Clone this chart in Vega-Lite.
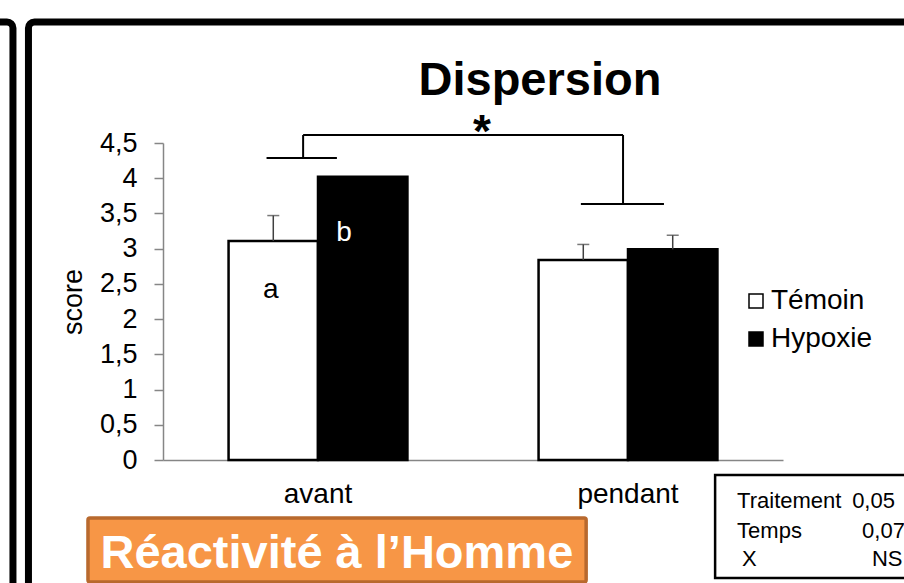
{
  "$schema": "https://vega.github.io/schema/vega-lite/v6.json",
  "width": 620,
  "height": 317,
  "autosize": {"type": "none"},
  "padding": {"left": 163, "top": 143, "right": 121, "bottom": 123},
  "background": "white",
  "config": {
    "font": "Liberation Sans",
    "view": {"stroke": null},
    "text": {"font": "Liberation Sans", "color": "black"},
    "axisY": {
      "values": [0, 0.5, 1, 1.5, 2, 2.5, 3, 3.5, 4, 4.5],
      "labelOverlap": false
    }
  },
  "datasets": {
    "bars": [
      {"time": "avant", "group": "Témoin", "mean": 3.11, "err": 3.47},
      {"time": "avant", "group": "Hypoxie", "mean": 4.02, "err": null},
      {"time": "pendant", "group": "Témoin", "mean": 2.84, "err": 3.06},
      {"time": "pendant", "group": "Hypoxie", "mean": 2.99, "err": 3.19}
    ],
    "bracket": [
      {"x": 0.452, "x2": 1.484, "y": 4.614, "y2": 4.614},
      {"x": 0.452, "x2": 0.452, "y": 4.614, "y2": 4.287},
      {"x": 0.334, "x2": 0.561, "y": 4.287, "y2": 4.287},
      {"x": 1.484, "x2": 1.484, "y": 4.614, "y2": 3.634},
      {"x": 1.348, "x2": 1.616, "y": 3.634, "y2": 3.634}
    ],
    "frames": [
      {"kind": "slide", "x": -0.434, "x2": 2.6, "y": 6.218, "y2": -2.2},
      {"kind": "prev", "x": -1.2, "x2": -0.484, "y": 6.218, "y2": -2.2},
      {"kind": "stats", "x": 1.781, "x2": 2.6, "y": -0.213, "y2": -1.675},
      {"kind": "orange", "x": -0.242, "x2": 1.365, "y": -0.823, "y2": -1.732}
    ],
    "texts": [
      {"role": "title", "label": "Dispersion", "x": 1.216, "y": 5.18},
      {"role": "star", "label": "*", "x": 1.029, "y": 4.45},
      {"role": "letter", "label": "a", "x": 0.348, "y": 2.3},
      {"role": "letterw", "label": "b", "x": 0.584, "y": 3.11},
      {"role": "banner", "label": "Réactivité à l’Homme", "x": 0.561, "y": -1.533},
      {"role": "stats", "label": "Traitement", "x": 1.852, "y": -0.681},
      {"role": "stats", "label": "0,05", "x": 2.223, "y": -0.681},
      {"role": "stats", "label": "Temps", "x": 1.852, "y": -1.107},
      {"role": "stats", "label": "0,07", "x": 2.255, "y": -1.107},
      {"role": "stats", "label": "X", "x": 1.868, "y": -1.505},
      {"role": "stats", "label": "NS", "x": 2.287, "y": -1.505}
    ]
  },
  "layer": [
    {
      "data": {"name": "frames"},
      "transform": [{"filter": "datum.kind === 'slide' || datum.kind === 'prev'"}],
      "mark": {"type": "rect", "fill": null, "stroke": "black", "strokeWidth": 7, "cornerRadius": 6},
      "encoding": {
        "x": {"field": "x", "type": "quantitative", "scale": {"domain": [0, 2], "nice": false, "zero": false}, "axis": null},
        "x2": {"field": "x2"},
        "y": {"field": "y", "type": "quantitative", "scale": {"domain": [0, 4.5], "nice": false, "zero": false}, "axis": null},
        "y2": {"field": "y2"}
      }
    },
    {
      "data": {"name": "frames"},
      "transform": [{"filter": "datum.kind === 'stats'"}],
      "mark": {"type": "rect", "fill": "white", "stroke": "black", "strokeWidth": 2.5},
      "encoding": {
        "x": {"field": "x", "type": "quantitative", "scale": {"domain": [0, 2], "nice": false, "zero": false}, "axis": null},
        "x2": {"field": "x2"},
        "y": {"field": "y", "type": "quantitative", "scale": {"domain": [0, 4.5], "nice": false, "zero": false}, "axis": null},
        "y2": {"field": "y2"}
      }
    },
    {
      "data": {"name": "frames"},
      "transform": [{"filter": "datum.kind === 'orange'"}],
      "mark": {"type": "rect", "fill": "#F79646", "stroke": "#B8692E", "strokeWidth": 3.5, "cornerRadius": 2},
      "encoding": {
        "x": {"field": "x", "type": "quantitative", "scale": {"domain": [0, 2], "nice": false, "zero": false}, "axis": null},
        "x2": {"field": "x2"},
        "y": {"field": "y", "type": "quantitative", "scale": {"domain": [0, 4.5], "nice": false, "zero": false}, "axis": null},
        "y2": {"field": "y2"}
      }
    },
    {
      "data": {"name": "bars"},
      "encoding": {
        "x": {
          "field": "time", "type": "nominal", "sort": ["avant", "pendant"],
          "scale": {"paddingInner": 0.423, "paddingOuter": 0.2115},
          "axis": {"title": null, "labelAngle": 0, "ticks": false, "tickSize": 0, "domainColor": "#868686", "domainWidth": 1.5, "labelFontSize": 28, "labelPadding": 20, "labelColor": "black", "labelFont": "Liberation Sans"}
        },
        "xOffset": {"field": "group", "type": "nominal", "sort": ["Témoin", "Hypoxie"], "scale": {"domain": ["Témoin", "Hypoxie"], "paddingInner": 0, "paddingOuter": 0}}
      },
      "layer": [
        {
          "mark": {"type": "bar", "stroke": "black", "strokeWidth": 2.5},
          "encoding": {
            "y": {
              "field": "mean", "type": "quantitative",
              "scale": {"domain": [0, 4.5], "nice": false, "zero": false},
              "axis": {
                "title": "score", "values": [0, 0.5, 1, 1.5, 2, 2.5, 3, 3.5, 4, 4.5],
                "format": ".1~f",
                "labelExpr": "replace(datum.label, '.', ',')",
                "labelOverlap": false,
                "grid": false, "domainColor": "#868686", "domainWidth": 1.5, "tickColor": "#868686", "tickWidth": 1.5, "tickSize": 9,
                "labelFontSize": 27, "labelPadding": 17, "labelColor": "black", "labelFont": "Liberation Sans",
                "titleFontSize": 27, "titleFontWeight": "normal", "titleColor": "black", "titlePadding": 12, "titleFont": "Liberation Sans"
              }
            },
            "color": {
              "field": "group", "type": "nominal",
              "scale": {"domain": ["Témoin", "Hypoxie"], "range": ["white", "black"]},
              "legend": {
                "orient": "none", "legendX": 579, "legendY": 144, "title": null,
                "symbolType": "square", "symbolSize": 196, "symbolStrokeColor": "black", "symbolStrokeWidth": 1.5,
                "labelFontSize": 28, "labelOffset": 1, "rowPadding": 10, "labelColor": "black", "labelFont": "Liberation Sans"
              }
            }
          }
        },
        {
          "transform": [{"filter": "isValid(datum.err)"}],
          "mark": {"type": "rule", "color": "#404040", "strokeWidth": 1.5},
          "encoding": {
            "y": {
              "field": "mean", "type": "quantitative",
              "scale": {"domain": [0, 4.5], "nice": false, "zero": false},
              "axis": {
                "title": "score", "values": [0, 0.5, 1, 1.5, 2, 2.5, 3, 3.5, 4, 4.5],
                "format": ".1~f",
                "labelExpr": "replace(datum.label, '.', ',')",
                "labelOverlap": false,
                "grid": false, "domainColor": "#868686", "domainWidth": 1.5, "tickColor": "#868686", "tickWidth": 1.5, "tickSize": 9,
                "labelFontSize": 27, "labelPadding": 17, "labelColor": "black", "labelFont": "Liberation Sans",
                "titleFontSize": 27, "titleFontWeight": "normal", "titleColor": "black", "titlePadding": 12, "titleFont": "Liberation Sans"
              }
            },
            "y2": {"field": "err"}
          }
        },
        {
          "transform": [{"filter": "isValid(datum.err)"}],
          "mark": {"type": "tick", "color": "#404040", "size": 12, "thickness": 1.5},
          "encoding": {
            "y": {
              "field": "err", "type": "quantitative",
              "scale": {"domain": [0, 4.5], "nice": false, "zero": false},
              "axis": {
                "title": "score", "values": [0, 0.5, 1, 1.5, 2, 2.5, 3, 3.5, 4, 4.5],
                "format": ".1~f",
                "labelExpr": "replace(datum.label, '.', ',')",
                "labelOverlap": false,
                "grid": false, "domainColor": "#868686", "domainWidth": 1.5, "tickColor": "#868686", "tickWidth": 1.5, "tickSize": 9,
                "labelFontSize": 27, "labelPadding": 17, "labelColor": "black", "labelFont": "Liberation Sans",
                "titleFontSize": 27, "titleFontWeight": "normal", "titleColor": "black", "titlePadding": 12, "titleFont": "Liberation Sans"
              }
            }
          }
        }
      ]
    },
    {
      "data": {"name": "bracket"},
      "mark": {"type": "rule", "color": "black", "strokeWidth": 2},
      "encoding": {
        "x": {"field": "x", "type": "quantitative", "scale": {"domain": [0, 2], "nice": false, "zero": false}, "axis": null},
        "x2": {"field": "x2"},
        "y": {"field": "y", "type": "quantitative", "scale": {"domain": [0, 4.5], "nice": false, "zero": false}, "axis": null},
        "y2": {"field": "y2"}
      }
    },
    {
      "data": {"name": "texts"},
      "transform": [{"filter": "datum.role === 'title'"}],
      "mark": {"type": "text", "fontSize": 47, "fontWeight": "bold", "align": "center", "baseline": "alphabetic", "color": "black"},
      "encoding": {
        "x": {"field": "x", "type": "quantitative", "scale": {"domain": [0, 2], "nice": false, "zero": false}, "axis": null},
        "y": {"field": "y", "type": "quantitative", "scale": {"domain": [0, 4.5], "nice": false, "zero": false}, "axis": null},
        "text": {"field": "label"}
      }
    },
    {
      "data": {"name": "texts"},
      "transform": [{"filter": "datum.role === 'star'"}],
      "mark": {"type": "text", "fontSize": 46, "fontWeight": "bold", "align": "center", "baseline": "alphabetic", "color": "black"},
      "encoding": {
        "x": {"field": "x", "type": "quantitative", "scale": {"domain": [0, 2], "nice": false, "zero": false}, "axis": null},
        "y": {"field": "y", "type": "quantitative", "scale": {"domain": [0, 4.5], "nice": false, "zero": false}, "axis": null},
        "text": {"field": "label"}
      }
    },
    {
      "data": {"name": "texts"},
      "transform": [{"filter": "datum.role === 'letter'"}],
      "mark": {"type": "text", "fontSize": 28, "align": "center", "baseline": "alphabetic", "color": "black"},
      "encoding": {
        "x": {"field": "x", "type": "quantitative", "scale": {"domain": [0, 2], "nice": false, "zero": false}, "axis": null},
        "y": {"field": "y", "type": "quantitative", "scale": {"domain": [0, 4.5], "nice": false, "zero": false}, "axis": null},
        "text": {"field": "label"}
      }
    },
    {
      "data": {"name": "texts"},
      "transform": [{"filter": "datum.role === 'letterw'"}],
      "mark": {"type": "text", "fontSize": 28, "align": "center", "baseline": "alphabetic", "color": "white"},
      "encoding": {
        "x": {"field": "x", "type": "quantitative", "scale": {"domain": [0, 2], "nice": false, "zero": false}, "axis": null},
        "y": {"field": "y", "type": "quantitative", "scale": {"domain": [0, 4.5], "nice": false, "zero": false}, "axis": null},
        "text": {"field": "label"}
      }
    },
    {
      "data": {"name": "texts"},
      "transform": [{"filter": "datum.role === 'banner'"}],
      "mark": {"type": "text", "fontSize": 47, "fontWeight": "bold", "align": "center", "baseline": "alphabetic", "color": "white"},
      "encoding": {
        "x": {"field": "x", "type": "quantitative", "scale": {"domain": [0, 2], "nice": false, "zero": false}, "axis": null},
        "y": {"field": "y", "type": "quantitative", "scale": {"domain": [0, 4.5], "nice": false, "zero": false}, "axis": null},
        "text": {"field": "label"}
      }
    },
    {
      "data": {"name": "texts"},
      "transform": [{"filter": "datum.role === 'stats'"}],
      "mark": {"type": "text", "fontSize": 22, "align": "left", "baseline": "alphabetic", "color": "black"},
      "encoding": {
        "x": {"field": "x", "type": "quantitative", "scale": {"domain": [0, 2], "nice": false, "zero": false}, "axis": null},
        "y": {"field": "y", "type": "quantitative", "scale": {"domain": [0, 4.5], "nice": false, "zero": false}, "axis": null},
        "text": {"field": "label"}
      }
    }
  ],
  "resolve": {"scale": {"x": "independent", "y": "independent"}}
}
